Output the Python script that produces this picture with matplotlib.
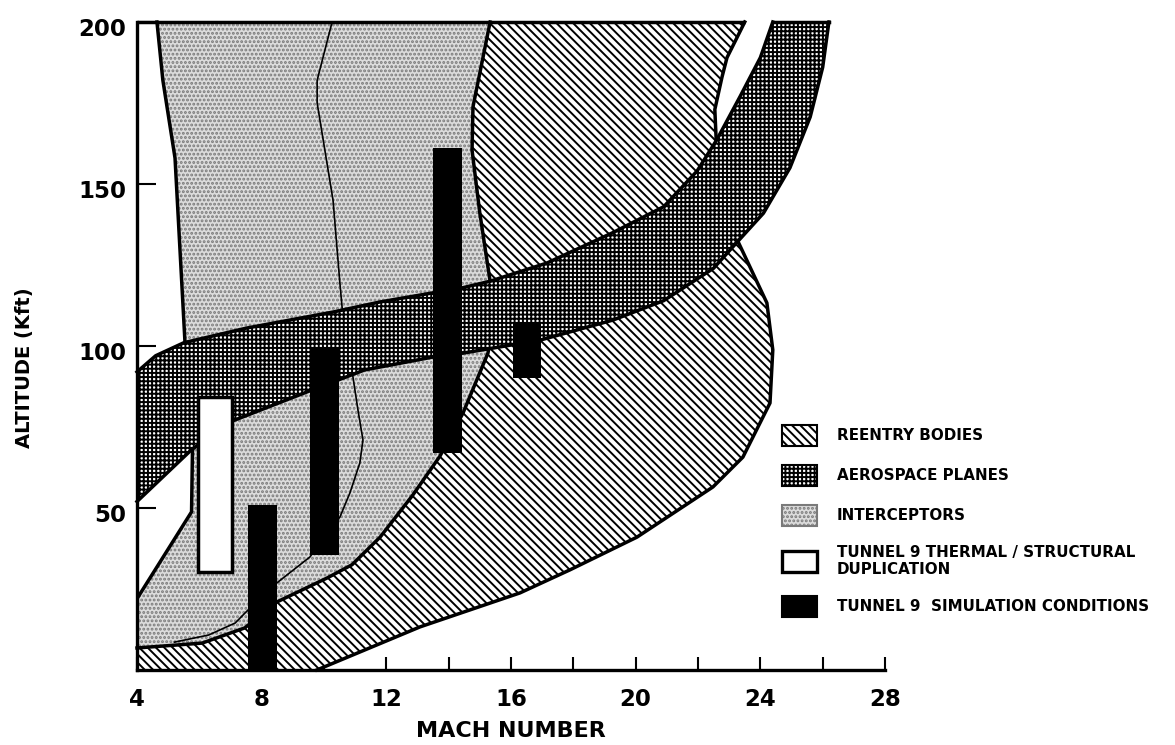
import numpy as np
import matplotlib
matplotlib.use("Agg")
import matplotlib.pyplot as plt
from matplotlib.patches import Patch
from matplotlib.transforms import ScaledTranslation

# boundary curves: Mach number / altitude (Kft)
band_upper_mach = [4.0, 4.6, 5.5, 7.5, 10.3, 11.8, 14.46, 15.33, 17.15, 19.27, 20.9, 21.97, 22.6, 23.35, 24.0, 24.4]
band_upper_alt = [92, 97, 101, 105.5, 110.5, 113.6, 118, 120, 125.6, 135, 143, 154, 163.6, 177, 189, 200]
band_lower_mach = [4.0, 5.75, 7.1, 9.5, 11.3, 13.5, 14.46, 16.93, 19.27, 20.9, 22.5, 23.25, 24.1, 24.95, 25.6, 26.0, 26.2]
band_lower_alt = [52, 68, 77, 86, 92.6, 96.6, 97.8, 101.8, 108, 114, 124, 132, 141, 155, 170.7, 186, 200]

icpt_left_mach = [4.64, 4.83, 5.22, 5.54, 5.6]
icpt_left_alt = [200, 182, 158, 101, 95]
icpt_low_mach = [5.8, 5.78, 5.75, 4.0]
icpt_low_alt = [75, 68, 48.8, 22]

divider_mach = [10.26, 9.78, 9.78, 10.29, 10.51, 10.58, 10.93, 11.09, 11.25, 11.15, 10.83, 10.51,
                10.0, 9.55, 8.49, 8.0, 7.56, 7.15, 6.3, 5.2]
divider_alt = [200, 182, 175, 145, 119.4, 112, 90.4, 80.2, 71, 63.9, 54.6, 47.2,
               41, 34.9, 26.9, 22, 18.5, 14.5, 10.8, 8.6]

reentry_ul_mach = [15.33, 15.1, 14.78, 14.75, 15.0, 15.33, 15.4]
reentry_ul_alt = [200, 189, 173.8, 160.5, 141, 120, 110]
reentry_ur_mach = [23.5, 22.93, 22.77, 22.54, 22.6]
reentry_ur_alt = [200, 189, 183, 173, 160]
reentry_ll_mach = [15.4, 15.26, 14.46, 13.72, 12.85, 11.8, 10.9, 10.1, 8.49, 7.46, 6.09, 4.0]
reentry_ll_alt = [105, 97.8, 79.3, 66, 54, 41, 32.5, 28.4, 21, 13, 8.3, 6.8]
reentry_lr_mach = [23.1, 24.21, 24.4, 24.31, 23.44, 22.48, 20.04, 17.89, 16.29, 13.08, 9.77]
reentry_lr_alt = [136, 113.3, 98.8, 82.4, 65.7, 56.5, 41, 30.9, 23.8, 13.3, 0]

top_edge_mach = [4.0, 23.5]
top_edge_alt = [200, 200]

# Tunnel 9 boxes
sim_mach_lo = [7.56, 9.55, 13.5, 16.06]
sim_mach_hi = [8.49, 10.48, 14.43, 16.96]
sim_alt_lo = [0, 35.5, 67, 90]
sim_alt_hi = [51, 99.4, 161, 107]
thermal_mach = [5.96, 7.05]
thermal_alt = [30.3, 84.3]

legend_labels = [
    "REENTRY BODIES",
    "AEROSPACE PLANES",
    "INTERCEPTORS",
    "TUNNEL 9 THERMAL / STRUCTURAL\nDUPLICATION",
    "TUNNEL 9  SIMULATION CONDITIONS",
]

plt.rcParams["font.family"] = ["DejaVu Sans"]
plt.rcParams["font.weight"] = "bold"
plt.rcParams["hatch.linewidth"] = 1.4

STIPPLE = dict(facecolor="#dcdcdc", edgecolor="#7a7a7a", hatch="....", linewidth=0)
DIAG = dict(facecolor="white", edgecolor="black", hatch="\\\\\\\\", linewidth=0)
GRID = dict(facecolor="white", edgecolor="black", hatch="++++", linewidth=0)
LW = 2.5


def pts(m, a):
    return np.column_stack([m, a])


def main():
    fig = plt.figure(figsize=(11.75, 7.45), dpi=100)
    ax = fig.add_axes([137 / 1175, 1 - 670 / 745, 748 / 1175, 648 / 745])
    ax.set_xlim(4, 28)
    ax.set_ylim(0, 200)

    # interceptors
    icpt = np.vstack([
        pts(icpt_left_mach, icpt_left_alt),
        pts(icpt_low_mach, icpt_low_alt),
        pts(reentry_ll_mach, reentry_ll_alt)[::-1],
        pts(reentry_ul_mach, reentry_ul_alt)[::-1],
    ])
    ax.fill(icpt[:, 0], icpt[:, 1], zorder=1, **STIPPLE)
    ax.plot(divider_mach, divider_alt, color="black", lw=1.2, zorder=1.5)
    ax.plot(icpt_left_mach, icpt_left_alt, color="black", lw=LW, zorder=2, clip_on=False)
    ax.plot(icpt_low_mach, icpt_low_alt, color="black", lw=LW, zorder=2)

    # reentry bodies
    reentry = np.vstack([
        pts(reentry_ul_mach, reentry_ul_alt),
        pts(reentry_ll_mach, reentry_ll_alt),
        [[4.0, 0.0]],
        pts(reentry_lr_mach, reentry_lr_alt)[::-1],
        pts(reentry_ur_mach, reentry_ur_alt)[::-1],
    ])
    ax.fill(reentry[:, 0], reentry[:, 1], zorder=2.5, **DIAG)
    for m, a in [(reentry_ul_mach, reentry_ul_alt), (reentry_ur_mach, reentry_ur_alt),
                 (reentry_ll_mach, reentry_ll_alt), (reentry_lr_mach, reentry_lr_alt)]:
        ax.plot(m, a, color="black", lw=LW, zorder=3, clip_on=False)
    ax.plot(top_edge_mach, top_edge_alt, color="black", lw=LW, zorder=3,
            clip_on=False, solid_capstyle="butt")

    # aerospace planes band
    band = np.vstack([pts(band_upper_mach, band_upper_alt),
                      pts(band_lower_mach, band_lower_alt)[::-1]])
    ax.fill(band[:, 0], band[:, 1], zorder=4, **GRID)
    ax.plot(band_upper_mach, band_upper_alt, color="black", lw=LW, zorder=4.5, clip_on=False)
    ax.plot(band_lower_mach, band_lower_alt, color="black", lw=LW, zorder=4.5, clip_on=False)
    ax.plot([band_upper_mach[-1], band_lower_mach[-1]], [200, 200], color="black",
            lw=LW, zorder=4.5, clip_on=False)

    # tunnel 9 boxes
    lo = np.array(sim_mach_lo)
    hi = np.array(sim_mach_hi)
    ax.bar(lo, np.array(sim_alt_hi) - np.array(sim_alt_lo), width=hi - lo,
           bottom=sim_alt_lo, align="edge", color="black", zorder=5)
    ax.bar(thermal_mach[0], thermal_alt[1] - thermal_alt[0],
           width=thermal_mach[1] - thermal_mach[0], bottom=thermal_alt[0], align="edge",
           facecolor="white", edgecolor="black", lw=LW, zorder=5)

    # axes styling
    for s in ["top", "right"]:
        ax.spines[s].set_visible(False)
    for s in ["left", "bottom"]:
        ax.spines[s].set_linewidth(2.4)
        ax.spines[s].set_zorder(6)
    ax.set_xticks(np.arange(4, 29, 4))
    ax.set_xticks(np.arange(6, 27, 4), minor=True)
    ax.set_yticks([50, 100, 150, 200])
    ax.tick_params(axis="x", which="both", direction="in", length=9.5, width=1.5,
                   pad=13, labelsize=16.5)
    ax.tick_params(axis="y", direction="in", length=14, width=1.5, pad=8, labelsize=16.5)
    off = ScaledTranslation(0, -5 / 100, fig.dpi_scale_trans)
    for lab in ax.get_yticklabels():
        lab.set_transform(lab.get_transform() + off)
        lab.set_fontweight("bold")
    for lab in ax.get_xticklabels():
        lab.set_fontweight("bold")

    ax.set_xlabel("MACH NUMBER", fontsize=16, fontweight="bold", labelpad=7)
    ax.set_ylabel("ALTITUDE (Kft)", fontsize=14, fontweight="bold")
    ax.yaxis.set_label_coords(-0.138, 0.466)

    handles = [
        Patch(facecolor="white", edgecolor="black", hatch="\\\\\\\\", lw=1.5),
        Patch(facecolor="white", edgecolor="black", hatch="++++", lw=1.5),
        Patch(facecolor="#dcdcdc", edgecolor="#7a7a7a", hatch="....", lw=1.5),
        Patch(facecolor="white", edgecolor="black", lw=2.4),
        Patch(facecolor="black", edgecolor="black", lw=1.5),
    ]
    ax.legend(handles, legend_labels, loc="upper left",
              bbox_to_anchor=(782 / 1175, 1 - 425 / 745), bbox_transform=fig.transFigure,
              frameon=False, borderpad=0, borderaxespad=0, handlelength=2.3,
              handleheight=1.75, handletextpad=1.3, labelspacing=1.25,
              prop={"size": 10.9, "weight": "bold"})

    fig.savefig("out.png", dpi=100)


if __name__ == "__main__":
    main()
